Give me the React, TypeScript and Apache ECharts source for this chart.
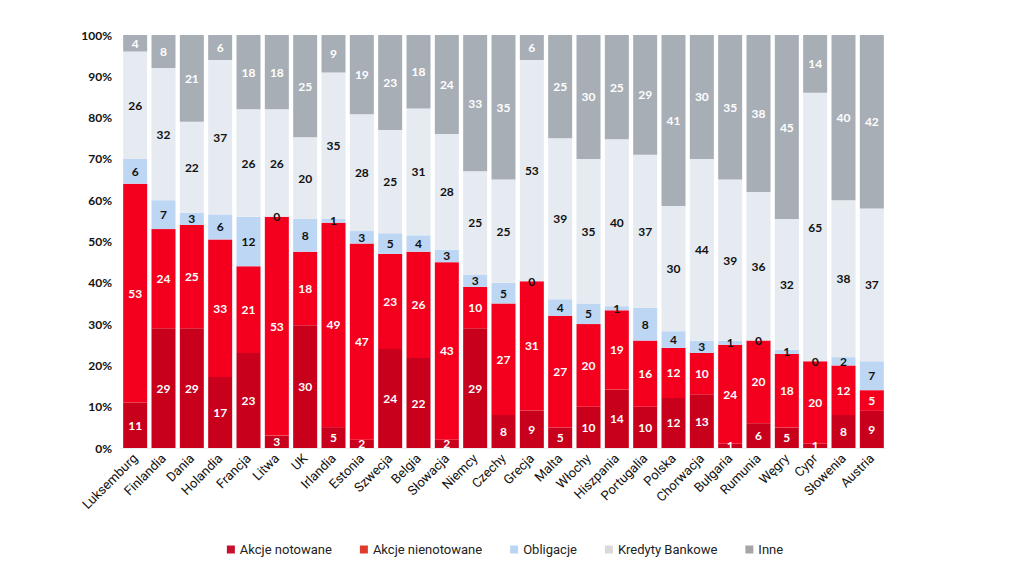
import React, { useEffect, useRef } from "react";
import * as echarts from "echarts";

const categories = [
  "Luksemburg", "Finlandia", "Dania", "Holandia", "Francja", "Litwa", "UK", "Irlandia", "Estonia",
  "Szwecja", "Belgia", "Słowacja", "Niemcy", "Czechy", "Grecja", "Malta", "Włochy", "Hiszpania",
  "Portugalia", "Polska", "Chorwacja", "Bułgaria", "Rumunia", "Węgry", "Cypr", "Słowenia", "Austria",
];

const akcjeNotowane = [11, 29, 29, 17, 23, 3, 30, 5, 2, 24, 22, 2, 29, 8, 9, 5, 10, 14, 10, 12, 13, 1, 6, 5, 1, 8, 9];
const akcjeNienotowane = [53, 24, 25, 33, 21, 53, 18, 49, 47, 23, 26, 43, 10, 27, 31, 27, 20, 19, 16, 12, 10, 24, 20, 18, 20, 12, 5];
const obligacje = [6, 7, 3, 6, 12, 0, 8, 1, 3, 5, 4, 3, 3, 5, 0, 4, 5, 1, 8, 4, 3, 1, 0, 1, 0, 2, 7];
const kredytyBankowe = [26, 32, 22, 37, 26, 26, 20, 35, 28, 25, 31, 28, 25, 25, 53, 39, 35, 40, 37, 30, 44, 39, 36, 32, 65, 38, 37];
const inne = [4, 8, 21, 6, 18, 18, 25, 9, 19, 23, 18, 24, 33, 35, 6, 25, 30, 25, 29, 41, 30, 35, 38, 45, 14, 40, 42];

const yTicks = [0, 10, 20, 30, 40, 50, 60, 70, 80, 90, 100];

const seriesDefs = [
  { name: "Akcje notowane", values: akcjeNotowane, color: "#c8001c", legendColor: "#c8102e", label: "#ffffff" },
  { name: "Akcje nienotowane", values: akcjeNienotowane, color: "#f4001e", legendColor: "#e03a2c", label: "#ffffff" },
  { name: "Obligacje", values: obligacje, color: "#bcd6f4", legendColor: "#b9d7f3", label: "#111111" },
  { name: "Kredyty Bankowe", values: kredytyBankowe, color: "#e6ebf2", legendColor: "#d9d9d9", label: "#111111" },
  { name: "Inne", values: inne, color: "#a7aeb5", legendColor: "#a6a6a6", label: "#ffffff" },
];

export default function App() {
  const ref = useRef<HTMLDivElement>(null);

  useEffect(() => {
    if (!ref.current) return;
    const chart = echarts.init(ref.current, null, { renderer: "svg" });
    const totals = categories.map((_, i) =>
      seriesDefs.reduce((s, d) => s + d.values[i], 0)
    );
    const font = "Lato, 'Noto Sans', sans-serif";
    chart.setOption({
      animation: false,
      backgroundColor: "#ffffff",
      grid: { left: 121, right: 124, top: 35, bottom: 135 },
      legend: {
        bottom: 22,
        left: "center",
        itemWidth: 8,
        itemHeight: 8,
        itemGap: 28,
        icon: "rect",
        textStyle: { fontSize: 13, color: "#222", fontFamily: "Roboto, sans-serif" },
        data: seriesDefs.map((d) => ({ name: d.name, itemStyle: { color: d.legendColor } })),
      },
      xAxis: {
        type: "category",
        data: categories,
        axisTick: { show: false },
        axisLine: { show: true, lineStyle: { color: "#eeeeee", width: 1 } },
        axisLabel: {
          rotate: 45,
          interval: 0,
          fontSize: 13,
          color: "#111",
          fontFamily: "Roboto, sans-serif",
          margin: 8,
        },
      },
      yAxis: {
        type: "value",
        min: 0,
        max: 100,
        interval: 10,
        axisLine: { show: false },
        axisTick: { show: false },
        splitLine: { show: false },
        axisLabel: {
          formatter: (v: number) => (yTicks.includes(v) ? v + "%" : ""),
          fontSize: 12,
          fontWeight: "bold",
          color: "#111",
          fontFamily: font,
          margin: 9,
        },
      },
      series: seriesDefs.map((d) => ({
        name: d.name,
        type: "bar",
        stack: "total",
        barWidth: 24,
        itemStyle: { color: d.color },
        label: {
          show: true,
          position: "inside",
          color: d.label,
          fontSize: 12,
          fontWeight: "bold",
          fontFamily: font,
          formatter: (p: any) => String(d.values[p.dataIndex]),
        },
        data: d.values.map((v, i) => (v / totals[i]) * 100),
      })),
    });
    return () => chart.dispose();
  }, []);

  return (
    <div
      ref={ref}
      style={{ position: "fixed", left: 0, top: 0, width: 1010, height: 583 }}
    />
  );
}
